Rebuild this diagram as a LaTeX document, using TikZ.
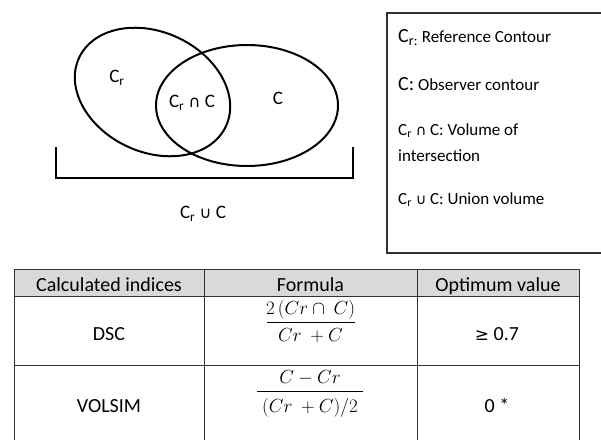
\documentclass[tikz,border=0pt]{standalone}
\usepackage{fix-cm}
\usepackage{fontspec}
\setmainfont{Carlito}
\newfontfamily\djv[Scale=0.85]{DejaVu Sans}
\newcommand\mycap{{\djv ∩}}
\newcommand\mycup{{\djv ∪}}
\newcommand\mygeq{{\djv ≥}}
\begin{document}
\begin{tikzpicture}[x=1pt,y=-1pt,
  venn/.style={line width=2pt, black},
  lbl/.style={inner sep=0pt, font=\fontsize{19}{22}\selectfont},
  leg/.style={anchor=base west, inner sep=0pt, font=\fontsize{17}{20}\selectfont},
  tline/.style={line width=1pt, black!80},
  cell/.style={anchor=base, inner sep=0pt, font=\fontsize{20}{24}\selectfont},
  fml/.style={inner sep=0pt, font=\fontsize{19}{23}\selectfont},
  fbar/.style={line width=1pt, black}]
\useasboundingbox (0,0) rectangle (601,439);
\clip (0,0) rectangle (601,439);
\fill[white] (0,0) rectangle (601,439);

% Venn diagram
\draw[venn, rotate around={-25:(152.5,92)}] (152.5,92) ellipse [x radius=81, y radius=60];
\draw[venn] (247,105.5) ellipse [x radius=91, y radius=60.5];
\draw[venn] (56,147) -- (56,178) -- (353,178) -- (353,147);
\node[lbl] (cr) at (117,78) {C\textsubscript{r}};
\node[lbl] (inter) at (192,103) {C\textsubscript{r} \mycap{} C};
\node[lbl] (c) at (278,98) {C};
\node[lbl] (union) at (203,214) {C\textsubscript{r} \mycup{} C};

% Legend
\draw[line width=1.6pt, black!80] (387,13) rectangle (615,253);
\node[leg] (l1) at (398,42) {{\fontsize{20}{22}\selectfont C\textsubscript{r:}} Reference Contour};
\node[leg] (l2) at (398,90) {{\fontsize{20}{22}\selectfont C:} Observer contour};
\node[leg] (l3) at (398,135) {C\textsubscript{r} \mycap{} C: Volume of};
\node[leg] (l4) at (398,161) {intersection};
\node[leg] (l5) at (398,204) {C\textsubscript{r} \mycup{} C: Union volume};

% Table
\fill[black!15] (14,269) rectangle (579,296);
\draw[tline] (14,445) -- (14,269) -- (579,269) -- (579,445);
\draw[tline] (14,296) -- (579,296);
\draw[tline] (14,365) -- (579,365);
\draw[tline] (204,269) -- (204,445);
\draw[tline] (417,269) -- (417,445);

\node[cell] (h1) at (109,291) {Calculated indices};
\node[cell] (h2) at (310.5,291) {Formula};
\node[cell] (h3) at (498,291) {Optimum value};
\node[cell] (dsc) at (109,340) {DSC};
\node[cell] (volsim) at (109,412) {VOLSIM};
\node[cell] (opt1) at (497,340) {\mygeq{} 0.7};
\node[cell] (opt2) at (497,412) {0 *};

\node[fml] (n1) at (310.5,310) {$2\,(Cr \cap\ C)$};
\node[fml] (d1) at (310.5,335.5) {$Cr\ +C$};
\coordinate (b1l) at (266.7,322);
\coordinate (b1r) at (355,322);
\draw[fbar] (b1l) -- (b1r);
\node[fml] (n2) at (310,377.5) {$C-Cr$};
\node[fml] (d2) at (310,408) {$(Cr\ +C)/2$};
\coordinate (b2l) at (257.3,391.7);
\coordinate (b2r) at (362.7,391.7);
\draw[fbar] (b2l) -- (b2r);
\end{tikzpicture}
\end{document}
